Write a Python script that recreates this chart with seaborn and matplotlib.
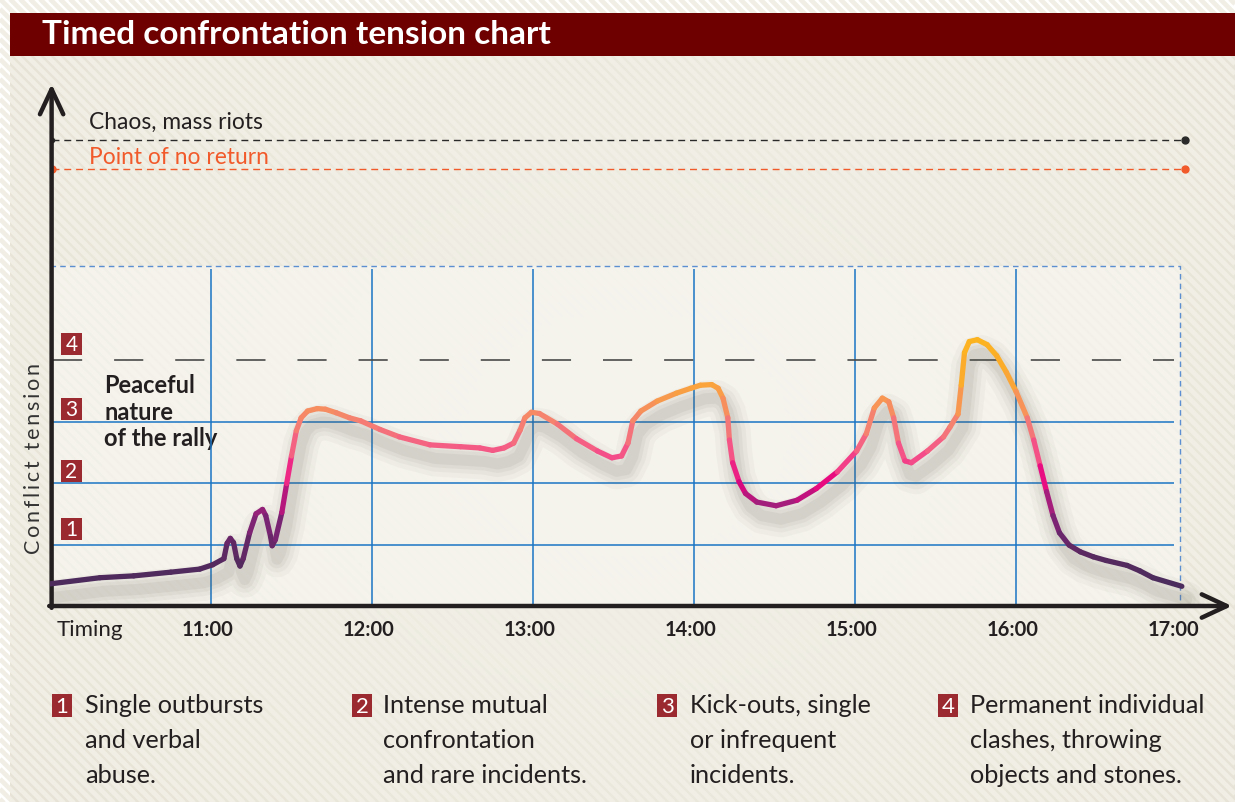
import matplotlib
matplotlib.use("Agg")
import matplotlib.pyplot as plt
import seaborn as sns
import numpy as np
import pandas as pd
from matplotlib.collections import LineCollection
from matplotlib.colors import LinearSegmentedColormap
from matplotlib.patches import Rectangle

# 曲线数据：时间（小时）与冲突紧张程度（等级）
hours = [10.0, 10.31, 10.52, 10.75, 10.93, 11.01, 11.08, 11.10, 11.12, 11.14,
         11.16, 11.18, 11.20, 11.24, 11.28, 11.32, 11.34, 11.37, 11.38, 11.40,
         11.44, 11.47, 11.50, 11.53, 11.56, 11.60, 11.66, 11.71, 11.78, 11.86,
         11.93, 12.05, 12.17, 12.36, 12.55, 12.67, 12.75, 12.82, 12.88, 12.92,
         12.95, 12.99, 13.04, 13.15, 13.27, 13.40, 13.49, 13.55, 13.59, 13.62,
         13.67, 13.77, 13.89, 13.98, 14.04, 14.11, 14.15, 14.18, 14.21, 14.22,
         14.24, 14.28, 14.32, 14.39, 14.51, 14.64, 14.76, 14.89, 15.01, 15.07,
         15.12, 15.17, 15.21, 15.24, 15.27, 15.31, 15.35, 15.45, 15.55, 15.59,
         15.64, 15.66, 15.68, 15.71, 15.76, 15.82, 15.88, 15.94, 16.00, 16.07,
         16.11, 16.15, 16.19, 16.23, 16.27, 16.33, 16.40, 16.48, 16.56, 16.69,
         16.77, 16.85, 17.03]
tension = [0.36, 0.46, 0.49, 0.55, 0.60, 0.67, 0.77, 1.02, 1.10, 1.03,
           0.77, 0.65, 0.77, 1.19, 1.50, 1.57, 1.47, 1.13, 0.98, 1.08,
           1.52, 1.99, 2.44, 2.85, 3.06, 3.17, 3.21, 3.20, 3.14, 3.06,
           3.01, 2.87, 2.75, 2.62, 2.59, 2.57, 2.53, 2.57, 2.65, 2.86,
           3.06, 3.15, 3.13, 2.96, 2.72, 2.52, 2.41, 2.44, 2.65, 3.01,
           3.17, 3.33, 3.46, 3.54, 3.59, 3.60, 3.54, 3.38, 3.06, 2.70,
           2.33, 2.02, 1.83, 1.69, 1.63, 1.72, 1.91, 2.18, 2.52, 2.80,
           3.22, 3.38, 3.32, 3.06, 2.65, 2.36, 2.33, 2.52, 2.75, 2.91,
           3.12, 3.59, 4.12, 4.30, 4.33, 4.25, 4.07, 3.80, 3.49, 3.06,
           2.70, 2.28, 1.86, 1.47, 1.19, 0.99, 0.88, 0.80, 0.74, 0.66,
           0.57, 0.46, 0.32]
assert len(hours) == len(tension)

tick_hours = [11, 12, 13, 14, 15, 16, 17]
tick_labels = ["11:00", "12:00", "13:00", "14:00", "15:00", "16:00", "17:00"]
grid_levels = [1, 2, 3]
level4 = 4
box_top = 5.53
box_right = 17.02
no_return = 7.11
chaos = 7.58
level_labels = ["1", "2", "3", "4"]
legend_texts = [
    ["Single outbursts", "and verbal", "abuse."],
    ["Intense mutual", "confrontation", "and rare incidents."],
    ["Kick-outs, single", "or infrequent", "incidents."],
    ["Permanent individual", "clashes, throwing", "objects and stones."],
]

sns.set_theme(style="white")
plt.rcParams["font.family"] = ["Lato", "DejaVu Sans"]
plt.rcParams["lines.scale_dashes"] = False

TXT = "#231f20"
BADGE = "#9b2a30"

fig = plt.figure(figsize=(12.35, 8.03), dpi=100)
fig.patch.set_facecolor("white")

# 背景层（像素坐标，y 向下）
bg = fig.add_axes([0, 0, 1, 1], zorder=0)
card = Rectangle((10, 14), 1240, 800, facecolor="#e6e3d5", edgecolor="none")
bg.add_patch(card)
segs = [[(0, c), (1235, 1235 + c)] for c in range(-1240, 810, 10)]
stripes = LineCollection(segs, colors="#f1efe5", linewidths=3.4)
stripes.set_clip_path(card)
bg.add_collection(stripes)
# 中央柔光
yy, xx = np.mgrid[0:100, 0:160]
glow = np.exp(-(((xx - 80) / 70.0) ** 2 + ((yy - 50) / 55.0) ** 2))
rgba = np.ones((100, 160, 4))
rgba[..., :3] = [0.98, 0.98, 0.96]
rgba[..., 3] = glow * 0.55
bg.imshow(rgba, extent=(10, 1235, 803, 57), aspect="auto", zorder=1)
bg.set_xlim(0, 1235)
bg.set_ylim(803, 0)
bg.axis("off")
bg.add_patch(Rectangle((51, 267), 1129, 340, facecolor="#f8f7f2",
                       edgecolor="none", alpha=0.6, zorder=2))

# 标题栏
bg.add_patch(Rectangle((10, 14), 1225, 43, facecolor="#6e0000", edgecolor="none", zorder=3))
bg.text(42, 35, "Timed confrontation tension chart", color="white", fontsize=24,
        fontweight="bold", va="center", ha="left", zorder=4)

# 主坐标轴
ax = fig.add_axes([50 / 1235, 196 / 803, 1182 / 1235, 522 / 803], zorder=2)
ax.patch.set_alpha(0)
ax.axis("off")

# 网格
ax.vlines(tick_hours[:-1], 0, box_top - 0.05, colors="#1b75c4", lw=1.1, zorder=1)
ax.hlines(grid_levels, 10, box_right - 0.04, colors="#1b75c4", lw=1.1, zorder=1)
ax.plot([10, box_right, box_right], [box_top, box_top, 0], ls=(0, (4, 3)),
        color="#5b8fd2", lw=1.0, zorder=1)
ax.hlines(level4, 10.02, box_right - 0.04, colors="#4a4a4a", lw=1.2,
          linestyles=[(0, (21, 23))], zorder=1)

# 阈值线
ax.plot([10.01, 17.05], [chaos, chaos], ls=(0, (5, 3.5)), color="#2a2a2a", lw=1.0)
ax.plot([17.05], [chaos], "o", color="#2a2a2a", ms=5)
ax.plot([10.01], [chaos], "o", color="#2a2a2a", ms=3)
ax.plot([10.01, 17.05], [no_return, no_return], ls=(0, (5, 3.5)), color="#f15a2b", lw=1.0)
ax.plot([10.01, 17.05], [no_return, no_return], "o", color="#f15a2b", ms=5)

# 曲线阴影
df = pd.DataFrame({"hour": hours, "tension": tension})
shadow = df.assign(hour=df["hour"] + 0.03, tension=df["tension"] - 0.22)
for w, a in [(26, 0.04), (19, 0.05), (13, 0.06), (8, 0.07)]:
    sns.lineplot(data=shadow, x="hour", y="tension", ax=ax, color="#5e594c",
                 lw=w, alpha=a, estimator=None, sort=False, legend=False,
                 solid_capstyle="round", solid_joinstyle="round", zorder=3)
ax.set_xlim(10, 10 + 1182 / 161)
ax.set_ylim(0, 522 / 61.5)
ax.axis("off")

# 渐变曲线
cmap = LinearSegmentedColormap.from_list("tension", [
    (0.0, "#4a2c5c"), (0.12, "#57295f"), (0.25, "#7a2472"), (0.33, "#a0207c"),
    (0.42, "#e6037f"), (0.52, "#f4498a"), (0.6, "#f46a80"), (0.68, "#f5846d"),
    (0.76, "#f8994f"), (0.85, "#fbaa2e"), (1.0, "#fcb41f")])
pts = np.column_stack([hours, tension])
seg = np.stack([pts[:-1], pts[1:]], axis=1)
mid = (np.array(tension[:-1]) + np.array(tension[1:])) / 2
lc = LineCollection(seg, cmap=cmap, norm=plt.Normalize(0.3, 4.35), lw=3.8,
                    capstyle="round", joinstyle="round", zorder=4)
lc.set_array(mid)
ax.add_collection(lc)

# 坐标轴箭头
arrow = dict(arrowstyle="->,head_length=1.5,head_width=0.7", lw=3.2,
             color=TXT, shrinkA=0, shrinkB=0)
ax.annotate("", xy=(10.01, 522 / 61.5), xytext=(10.01, -0.03), arrowprops=arrow,
            annotation_clip=False)
ax.annotate("", xy=(10 + 1182 / 161, 0), xytext=(9.995, 0), arrowprops=arrow,
            annotation_clip=False)

# 刻度标签
ax.text(10.04, -0.37, "Timing", fontsize=16, color=TXT, ha="left", va="center")
for h, lab in zip(tick_hours, tick_labels):
    ax.text(h - 0.02, -0.37, lab, fontsize=14.5, fontweight="bold", color=TXT,
            ha="center", va="center")

# 文本标注（像素坐标）
bg.text(89, 122, "Chaos, mass riots", fontsize=16.4, color=TXT, va="center", zorder=5)
bg.text(89, 158, "Point of no return", fontsize=16.4, color="#f15a2b", va="center", zorder=5)

for lab, cy in zip(level_labels, [530, 472, 410, 345]):
    bg.add_patch(Rectangle((61, cy - 11), 21, 22, facecolor=BADGE, edgecolor="none", zorder=5))
    bg.text(71.5, cy + 0.5, lab, fontsize=15, color="white", ha="center", va="center", zorder=6)

for j, line in enumerate(["Peaceful", "nature", "of the rally"]):
    bg.text(104, 386 + j * 26.5, line, fontsize=17, fontweight="bold", color=TXT,
            va="center", zorder=5)

bg.text(34, 458, "\u2009".join("Conflict") + "  " + "\u2009".join("tension"),
        fontsize=15.5, color="#333333", rotation=90, ha="center", va="center", zorder=5)

# 底部图例
for i, lines in enumerate(legend_texts):
    bx = [52, 352, 657, 938][i]
    tx = [85, 383, 690, 970][i]
    bg.add_patch(Rectangle((bx, 695), 20, 23, facecolor=BADGE, edgecolor="none", zorder=5))
    bg.text(bx + 10, 707, level_labels[i], fontsize=16, color="white", ha="center",
            va="center", zorder=6)
    for j, line in enumerate(lines):
        bg.text(tx, 706 + j * 35, line, fontsize=18.2, color=TXT, ha="left",
                va="center", zorder=5)

fig.savefig("out.png", dpi=100)
